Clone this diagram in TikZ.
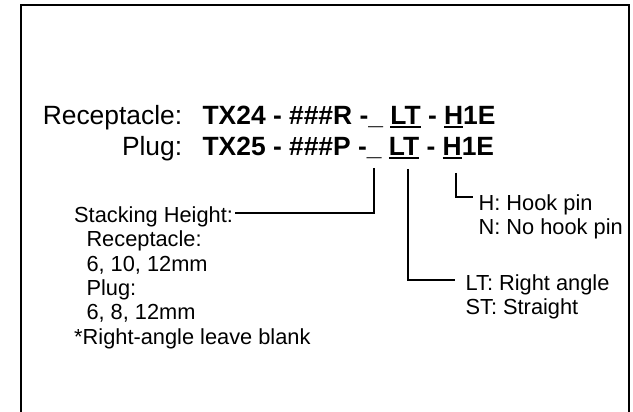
\documentclass[tikz,border=0pt]{standalone}
\usepackage{fontspec}
\setmainfont{Liberation Sans}
\newsavebox{\ubarbox}
\newcommand{\ubar}[1]{\sbox{\ubarbox}{#1}\rlap{\rule[-3.5pt]{\wd\ubarbox}{2pt}}\usebox{\ubarbox}}

\begin{document}
\begin{tikzpicture}[x=1pt,y=-1pt,
  big/.style={inner sep=0pt,font=\fontsize{26.4pt}{31pt}\selectfont},
  small/.style={inner sep=0pt,anchor=base west,text height=15.6pt,text depth=4.6pt,
    font=\fontsize{21.8pt}{24.3pt}\selectfont},
  lead/.style={line width=1.5pt}]
\useasboundingbox (0,0) rectangle (633,412);
\draw[line width=2pt] (21,420)--(21,5)--(629,5)--(629,420);
% part number lines
\node[big,anchor=base east] (recname) at (182.4,124.5) {Receptacle:};
\node[big,anchor=base west] (reccode) at (202.4,124.5) {\bfseries TX24 - \#\#\#R -\_ \ubar{LT} - \ubar{H}1E};
\node[big,anchor=base east] (plugname) at (182.4,155.5) {Plug:};
\node[big,anchor=base west] (plugcode) at (202.4,155.5) {\bfseries TX25 - \#\#\#P -\_ \ubar{LT} - \ubar{H}1E};
% stacking height
\node[small] (stackhead) at (74,222.5) {Stacking Height:};
\node[small] (stackrec) at (86.3,246.8) {Receptacle:};
\node[small] (stackrecv) at (86.3,271.1) {6, 10, 12mm};
\node[small] (stackplug) at (86.3,295.4) {Plug:};
\node[small] (stackplugv) at (86.3,319.7) {6, 8, 12mm};
\node[small] (stacknote) at (74,344) {*Right-angle leave blank};
% terminal and hook pin
\node[small] (ltA) at (465.4,290.5) {LT: Right angle};
\node[small] (ltB) at (465.4,314.8) {ST: Straight};
\node[small] (hookA) at (478.4,210.5) {H: Hook pin};
\node[small] (hookB) at (478.4,234.8) {N: No hook pin};
\coordinate (usctop) at (374,168);
\coordinate (lttop) at (408,169);
\coordinate (htop) at (456,173);
\draw[lead] (usctop) |- ([xshift=2.3pt,yshift=4pt]stackhead.east);
\draw[lead] (lttop) |- ([xshift=-10.4pt,yshift=5pt]ltA.west);
\draw[lead] (htop) |- ([xshift=-5.4pt,yshift=8pt]hookA.west);
\end{tikzpicture}
\end{document}
